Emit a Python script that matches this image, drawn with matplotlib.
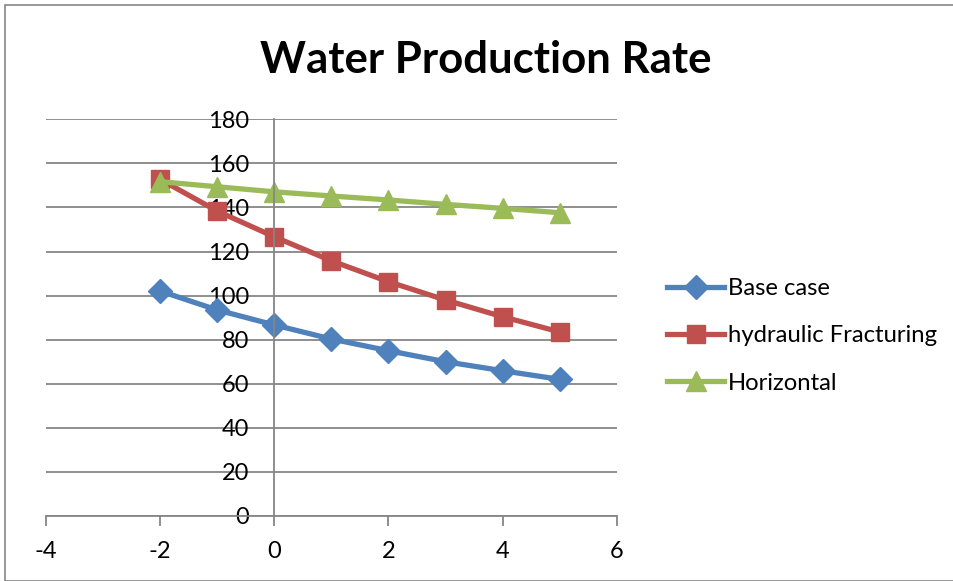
import matplotlib
matplotlib.use("Agg")
import matplotlib.pyplot as plt
from matplotlib.patches import Rectangle

# --------------------------------------------------------------------------- #
# Data
# --------------------------------------------------------------------------- #
x_vals = [-2, -1, 0, 1, 2, 3, 4, 5]
base_case = [102.1, 93.5, 86.7, 80.3, 75.0, 70.0, 65.9, 62.0]
hydraulic = [152.8, 138.4, 126.7, 115.8, 106.3, 98.0, 90.4, 83.5]
horizontal = [151.7, 149.4, 147.1, 145.2, 143.4, 141.4, 139.6, 137.6]

series_names = ["Base case", "hydraulic Fracturing", "Horizontal"]
x_ticks = [-4, -2, 0, 2, 4, 6]
y_ticks = [0, 20, 40, 60, 80, 100, 120, 140, 160, 180]

BLUE, RED, GREEN = "#4F81BD", "#C0504D", "#9BBB59"
GRID = "#868686"

plt.rcParams["font.family"] = ["Lato", "DejaVu Sans"]
plt.rcParams["axes.unicode_minus"] = False

fig = plt.figure(figsize=(9.54, 5.81), dpi=100)
# chart frame (Excel-style border)
fig.patches.append(Rectangle((5 / 954, 0), 1.0, (581 - 5) / 581, transform=fig.transFigure,
                             fill=False, edgecolor=GRID, linewidth=1.2))

ax = fig.add_axes([45.7 / 954, 65 / 581, (617 - 45.7) / 954, (516 - 119.3) / 581])

ax.plot(x_vals, base_case, color=BLUE, lw=3.8, marker="D", ms=12, label=series_names[0])
ax.plot(x_vals, hydraulic, color=RED, lw=3.8, marker="s", ms=13.5, label=series_names[1])
ax.plot(x_vals, horizontal, color=GREEN, lw=3.8, marker="^", ms=14, label=series_names[2])

ax.set_xlim(-4, 6)
ax.set_ylim(0, 180)
ax.set_xticks(x_ticks)
ax.set_yticks(y_ticks)
ax.yaxis.grid(True, color=GRID, lw=1.3)
ax.set_axisbelow(True)

for s in ["top", "right"]:
    ax.spines[s].set_visible(False)
ax.spines["left"].set_position(("data", 0))
ax.spines["left"].set_color(GRID)
ax.spines["bottom"].set_color(GRID)
ax.spines["left"].set_linewidth(1.3)
ax.spines["bottom"].set_linewidth(1.3)

ax.tick_params(axis="x", length=7, width=1.3, color=GRID, pad=11, labelsize=17)
ax.tick_params(axis="y", length=0, width=1.3, color=GRID, pad=18, labelsize=17)

fig.text(486 / 954, 1 - 60 / 581, "Water Production Rate", ha="center", va="center",
         fontsize=31.5, fontweight="bold")

leg = ax.legend(loc="center left", bbox_to_anchor=(655 / 954, 1 - 336 / 581),
                bbox_transform=fig.transFigure, frameon=False, borderpad=0,
                fontsize=17.2, handlelength=2.4, handletextpad=0.15, labelspacing=1.1)

fig.savefig("out.png", dpi=100)
